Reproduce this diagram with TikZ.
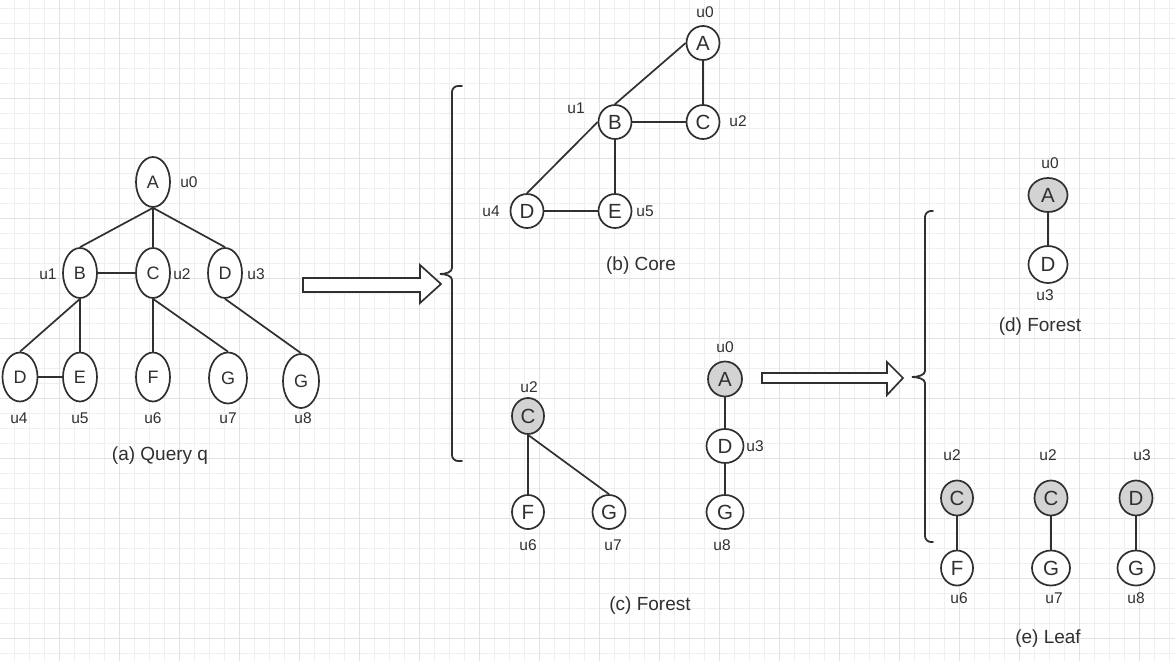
\documentclass[tikz,border=0pt]{standalone}
\usepackage{fontspec}
\setmainfont{Liberation Sans}
\usetikzlibrary{shapes.geometric}
\definecolor{ink}{HTML}{303030}
\definecolor{shade}{HTML}{D3D3D3}
\definecolor{gminor}{HTML}{EFEFEF}
\definecolor{gmajor}{HTML}{E2E2E2}
\tikzset{
  gridminor/.style={draw=gminor, line width=0.8pt},
  gridmajor/.style={draw=gmajor, line width=0.9pt},
  vtx/.style={ellipse, draw=ink, line width=1.7pt, fill=white, inner sep=0pt, text=ink},
  qv/.style={vtx, minimum width=34pt, minimum height=50pt, font=\fontsize{18}{18}\selectfont},
  cv/.style={vtx, minimum width=33pt, minimum height=34pt, font=\fontsize{20.5}{20.5}\selectfont},
  gv/.style={cv, fill=shade},
  lbl/.style={text=ink, inner sep=0pt, font=\fontsize{15.5}{15.5}\selectfont},
  captxt/.style={text=ink, inner sep=0pt, font=\fontsize{19}{19}\selectfont},
  edge/.style={draw=ink, line width=1.7pt},
  bigarrow/.style={draw=ink, line width=1.7pt, fill=white, line join=miter},
  bracket/.style={draw=ink, line width=1.8pt, line cap=round},
}
\begin{document}
\begin{tikzpicture}[x=1pt,y=-1pt]
\useasboundingbox (0,0) rectangle (1175,661);
\fill[white] (0,0) rectangle (1175,661);
% grid
\foreach \i in {0,...,77} {\draw[gridminor] ({14+15*\i},0) -- ({14+15*\i},661);}
\foreach \j in {0,...,43} {\draw[gridminor] (0,{8+15*\j}) -- (1175,{8+15*\j});}
\foreach \i in {0,...,18} {\draw[gridmajor] ({59+60*\i},0) -- ({59+60*\i},661);}
\foreach \j in {0,...,10} {\draw[gridmajor] (0,{38+60*\j}) -- (1175,{38+60*\j});}

% (a) Query q
\node[qv] (qA) at (153,182) {A};
\node[qv] (qB) at (80,273) {B};
\node[qv] (qC) at (153,273) {C};
\node[qv] (qD3) at (225,273) {D};
\node[qv, minimum width=35pt, minimum height=49pt] (qD4) at (20,377) {D};
\node[qv, minimum height=49pt] (qE) at (80,377) {E};
\node[qv, minimum height=49pt] (qF) at (153,377) {F};
\node[qv, minimum width=38pt, minimum height=51pt] (qG7) at (228,378) {G};
\node[qv, minimum width=36pt, minimum height=54pt] (qG8) at (301,381) {G};
\draw[edge] (qA.south) -- (qB.north);
\draw[edge] (qA.south) -- (qC.north);
\draw[edge] (qA.south) -- (qD3.north);
\draw[edge] (qB.east) -- (qC.west);
\draw[edge] (qB.south) -- (qD4.north);
\draw[edge] (qB.south) -- (qE.north);
\draw[edge] (qD4.east) -- (qE.west);
\draw[edge] (qC.south) -- (qF.north);
\draw[edge] (qC.south) -- (qG7.north);
\draw[edge] (qD3.south) -- (qG8.north);
\node[lbl] (la0) at (189,182) {u0};
\node[lbl] (la1) at (48,274) {u1};
\node[lbl] (la2) at (182,274) {u2};
\node[lbl] (la3) at (256,274) {u3};
\node[lbl] (la4) at (19,418) {u4};
\node[lbl] (la5) at (80,418) {u5};
\node[lbl] (la6) at (153,418) {u6};
\node[lbl] (la7) at (228,418) {u7};
\node[lbl] (la8) at (303,418) {u8};
\node[captxt] (capa) at (160,456) {(a) Query q};

% arrow 1 and brace 1
\draw[bigarrow] (303,278) -- (420,278) -- (420,265) -- (441,284) -- (420,303) -- (420,292) -- (303,292) -- cycle;
\draw[bracket] (462,86) -- (458,86) .. controls (454.7,86) and (452,88.7) .. (452,92) -- (452,268)
  .. controls (452,272) and (446,274) .. (440,274)
  .. controls (446,274) and (452,276) .. (452,280) -- (452,455)
  .. controls (452,458.3) and (454.7,461) .. (458,461) -- (462,461);

% (b) Core
\node[cv] (bA) at (703,43) {A};
\node[cv] (bB) at (615,122) {B};
\node[cv] (bC) at (703,122) {C};
\node[cv] (bD) at (527,211) {D};
\node[cv] (bE) at (615,211) {E};
\draw[edge] (bB.north) -- (bA.west);
\draw[edge] (bA.south) -- (bC.north);
\draw[edge] (bB.east) -- (bC.west);
\draw[edge] (bD.north) -- (bB.west);
\draw[edge] (bB.south) -- (bE.north);
\draw[edge] (bD.east) -- (bE.west);
\node[lbl] (lb0) at (705,12) {u0};
\node[lbl] (lb1) at (576,108) {u1};
\node[lbl] (lb2) at (738,121) {u2};
\node[lbl] (lb4) at (491,211) {u4};
\node[lbl] (lb5) at (645,211) {u5};
\node[captxt] (capb) at (641,266) {(b) Core};

% (c) Forest
\node[gv, minimum width=32pt, minimum height=36pt] (cC) at (528,416) {C};
\node[cv, minimum width=32pt] (cF) at (528,512) {F};
\node[cv] (cG7) at (609,512) {G};
\node[gv, minimum width=34pt, minimum height=35pt] (cA) at (725,379) {A};
\node[cv, minimum width=37pt] (cD) at (725,446) {D};
\node[cv, minimum width=37pt] (cG8) at (725,512) {G};
\draw[edge] (cC.south) -- (cF.north);
\draw[edge] (cC.south) -- (cG7.north);
\draw[edge] (cA.south) -- (cD.north);
\draw[edge] (cD.south) -- (cG8.north);
\node[lbl] (lc2) at (529,387) {u2};
\node[lbl] (lc6) at (528,545) {u6};
\node[lbl] (lc7) at (613,545) {u7};
\node[lbl] (lc0) at (725,347) {u0};
\node[lbl] (lc3) at (755,446) {u3};
\node[lbl] (lc8) at (722,545) {u8};
\node[captxt] (capc) at (650,606) {(c) Forest};

% arrow 2 and brace 2
\draw[bigarrow] (762,373) -- (887,373) -- (887,362) -- (903,378) -- (887,395) -- (887,383) -- (762,383) -- cycle;
\draw[bracket] (933,211) -- (931,211) .. controls (927.7,211) and (925,213.7) .. (925,217) -- (925,371)
  .. controls (925,375) and (918,377) .. (912,377)
  .. controls (918,377) and (925,379) .. (925,383) -- (925,536)
  .. controls (925,539.3) and (927.7,542) .. (931,542) -- (933,542);

% (d) Forest
\node[gv, minimum width=39pt, minimum height=34pt] (dA) at (1048,195) {A};
\node[cv, minimum width=39pt, minimum height=37pt] (dD) at (1048,264.5) {D};
\draw[edge] (dA.south) -- (dD.north);
\node[lbl] (ld0) at (1050,163) {u0};
\node[lbl] (ld3) at (1045,295) {u3};
\node[captxt] (capd) at (1040,327) {(d) Forest};

% (e) Leaf
\node[gv, minimum width=32pt, minimum height=35pt] (eC1) at (957,498) {C};
\node[cv, minimum width=32pt, minimum height=35pt] (eF) at (957,568) {F};
\node[gv, minimum height=35pt] (eC2) at (1051,498) {C};
\node[cv, minimum width=38pt, minimum height=35pt] (eG7) at (1051,568) {G};
\node[gv, minimum height=35pt] (eD) at (1136,498) {D};
\node[cv, minimum width=37pt, minimum height=35pt] (eG8) at (1136,568) {G};
\draw[edge] (eC1.south) -- (eF.north);
\draw[edge] (eC2.south) -- (eG7.north);
\draw[edge] (eD.south) -- (eG8.north);
\node[lbl] (le2a) at (952,455) {u2};
\node[lbl] (le2b) at (1048,455) {u2};
\node[lbl] (le3) at (1142,455) {u3};
\node[lbl] (le6) at (959,598) {u6};
\node[lbl] (le7) at (1054,598) {u7};
\node[lbl] (le8) at (1136,598) {u8};
\node[captxt] (cape) at (1048,639) {(e) Leaf};
\end{tikzpicture}
\end{document}
